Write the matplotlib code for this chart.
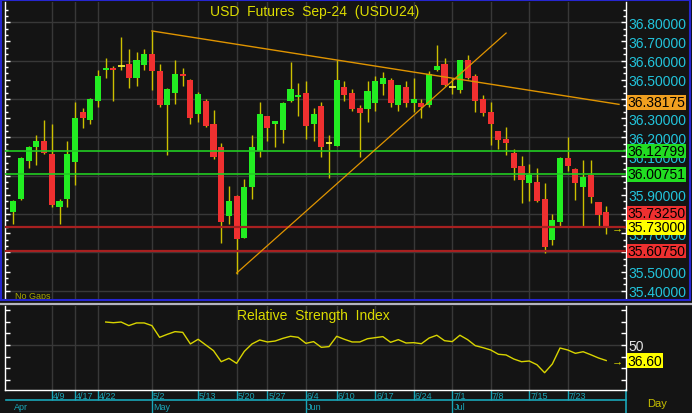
import matplotlib.pyplot as plt
import numpy as np
from matplotlib.patches import Rectangle
from matplotlib.lines import Line2D

plt.rcParams['font.family'] = ['Liberation Sans', 'DejaVu Sans']

# daily candles, bar index 0 = 4/1
opens = [35.809, 35.878, 36.078, 36.148, 36.183, 36.111, 35.837, 35.878, 36.070, 36.332,
         36.289, 36.390, 36.550, 36.562, 36.572, 36.584, 36.508, 36.579, 36.633, 36.544,
         36.367, 36.430, 36.532, 36.501, 36.320, 36.391, 36.271, 36.151, 35.788, 35.894,
         35.677, 35.941, 36.130, 36.311, 36.270, 36.238, 36.388, 36.409, 36.431, 36.270,
         36.362, 36.170, 36.155, 36.461, 36.431, 36.351, 36.348, 36.379, 36.480, 36.501,
         36.367, 36.461, 36.379, 36.381, 36.367, 36.550, 36.584, 36.461, 36.449, 36.602,
         36.522, 36.402, 36.332, 36.231, 36.193, 36.120, 36.052, 35.962, 35.969, 35.880,
         35.666, 35.757, 36.094, 36.035, 35.941, 36.005, 35.861, 35.810]
highs = [35.873, 36.095, 36.157, 36.214, 36.292, 36.271, 35.880, 36.183, 36.383, 36.353,
         36.405, 36.553, 36.614, 36.574, 36.723, 36.663, 36.643, 36.661, 36.753, 36.583,
         36.455, 36.602, 36.562, 36.503, 36.435, 36.402, 36.344, 36.170, 35.946, 35.901,
         35.983, 36.214, 36.383, 36.313, 36.285, 36.383, 36.595, 36.483, 36.492, 36.353,
         36.383, 36.214, 36.605, 36.492, 36.452, 36.370, 36.492, 36.522, 36.543, 36.511,
         36.473, 36.492, 36.511, 36.402, 36.544, 36.683, 36.614, 36.511, 36.604, 36.631,
         36.532, 36.421, 36.383, 36.233, 36.254, 36.141, 36.101, 36.061, 36.040, 35.962,
         35.800, 36.096, 36.202, 36.040, 36.080, 36.080, 35.863, 35.840]
lows = [35.748, 35.875, 36.038, 36.057, 36.115, 35.837, 35.748, 35.837, 35.950, 36.249,
        36.270, 36.358, 36.510, 36.388, 36.550, 36.457, 36.466, 36.553, 36.449, 36.357,
        36.106, 36.376, 36.466, 36.270, 36.278, 36.255, 36.087, 35.649, 35.750, 35.489,
        35.675, 35.880, 36.096, 36.179, 36.148, 36.169, 36.386, 36.310, 36.191, 36.179,
        36.097, 35.988, 36.153, 36.388, 36.337, 36.097, 36.280, 36.337, 36.419, 36.358,
        36.337, 36.358, 36.332, 36.299, 36.358, 36.548, 36.466, 36.424, 36.431, 36.505,
        36.332, 36.310, 36.158, 36.139, 36.108, 35.977, 35.857, 35.866, 35.864, 35.597,
        35.637, 35.730, 36.024, 35.871, 35.736, 35.857, 35.736, 35.696]
closes = [35.870, 36.090, 36.151, 36.183, 36.118, 35.847, 35.870, 36.111, 36.303, 36.299,
          36.402, 36.522, 36.562, 36.550, 36.572, 36.508, 36.602, 36.633, 36.548, 36.367,
          36.452, 36.532, 36.518, 36.299, 36.424, 36.257, 36.099, 35.757, 35.866, 35.671,
          35.941, 36.151, 36.322, 36.247, 36.283, 36.381, 36.452, 36.423, 36.257, 36.322,
          36.148, 36.170, 36.501, 36.419, 36.348, 36.327, 36.444, 36.492, 36.511, 36.379,
          36.471, 36.379, 36.402, 36.358, 36.532, 36.572, 36.471, 36.461, 36.602, 36.508,
          36.388, 36.329, 36.268, 36.188, 36.169, 36.038, 35.977, 36.002, 35.866, 35.626,
          35.770, 36.094, 36.052, 35.962, 35.993, 35.887, 35.797, 35.7325]

# RSI starts at bar 12
rsi_start = 12
rsi = [69.8, 69.2, 69.8, 66.7, 69.0, 69.0, 66.7, 56.6, 59.2, 61.5,
       60.9, 50.9, 54.9, 50.0, 45.1, 35.6, 38.5, 34.2, 44.5, 50.9,
       54.3, 52.6, 53.4, 55.7, 57.5, 56.6, 51.4, 52.9, 48.0, 48.6,
       57.5, 54.9, 52.6, 52.6, 55.4, 56.3, 57.2, 52.3, 54.6, 51.7,
       52.0, 51.1, 56.0, 58.4, 53.7, 52.9, 58.4, 54.6, 49.4, 47.7,
       45.7, 42.0, 41.4, 37.9, 35.6, 36.2, 33.0, 26.1, 33.6, 47.4,
       45.7, 42.8, 44.2, 41.6, 38.8, 36.6]

week_idx = [5, 8, 11, 18, 24, 29, 33, 38, 42, 47, 52, 57, 62, 67, 72]
week_labels = ['4/9', '4/17', '4/22', '5/2', '5/13', '5/20', '5/27', '6/4',
               '6/10', '6/17', '6/24', '7/1', '7/8', '7/15', '7/23']
month_idx = [0, 18, 38, 57]
month_labels = ['Apr', 'May', 'Jun', 'Jul']

# drawn studies
levels = [36.12799, 36.00751, 35.73000, 35.60750]
level_kind = ['green', 'green', 'red', 'red']
trend_down_x = [18, 78.66]
trend_down_y = [36.755, 36.372]
trend_up_x = [29, 64]
trend_up_y = [35.492, 36.744]
trend_label = 36.38175

# price scale labels that stay visible (others sit under the value tags)
price_labels = [35.4, 35.5, 35.7, 35.9, 36.1, 36.2, 36.3, 36.5, 36.6, 36.7, 36.8]

W, H = 692, 414
BG = '#141414'
GRID = '#383838'
CYAN = '#22c4dc'
TEAL = '#1aa6b8'
YEL = '#dcdc00'
GREEN = '#22ee22'
RED = '#f03030'
WICK = '#ccc000'


def px_axes(x0, y0, x1, y1):
    return [x0 / W, 1 - y1 / H, (x1 - x0) / W, (y1 - y0) / H]


fig = plt.figure(figsize=(W / 100, H / 100), dpi=100, facecolor=BG)
ax = fig.add_axes(px_axes(5, 3, 626, 300))
ax_rsi = fig.add_axes(px_axes(5, 307, 626, 391), sharex=ax)

idx = np.arange(len(closes))
o = np.array(opens)
c = np.array(closes)
up = c >= o

# ---- main price panel
ax.set_facecolor(BG)
ax.set_xlim(-1.078, 79.57)
ax.set_ylim(35.3566, 36.906)
ax.set_axisbelow(True)
for lv in np.arange(35.4, 36.81, 0.2):
    ax.axhline(lv, color=GRID, lw=1, zorder=0)
ax.set_xticks(week_idx)
ax.grid(axis='x', color=GRID, lw=1)
ax.tick_params(axis='x', length=0, labelbottom=False)

ax.vlines(idx, lows, highs, color=WICK, lw=1, zorder=2)
body_h = np.where(np.abs(c - o) < 0.008, 0.008, np.abs(c - o))
body_b = np.minimum(o, c)
doji = np.abs(c - o) < 0.001
ax.bar(idx[~doji], body_h[~doji], bottom=body_b[~doji], width=0.8,
       color=np.where(up, GREEN, RED)[~doji], zorder=3)
ax.hlines(c[doji], idx[doji] - 0.45, idx[doji] + 0.45, color='#ffff40', lw=1.2, zorder=3)

for lv, kind in zip(levels, level_kind):
    ax.axhline(lv, color='#22cc22' if kind == 'green' else '#a82020',
               lw=1.2 if kind == 'green' else 1.6, zorder=4)
ax.plot(trend_down_x, trend_down_y, color='#e09400', lw=1, zorder=4)
ax.plot(trend_up_x, trend_up_y, color='#e09400', lw=0.9, zorder=4)

ax.set_yticks(np.round(np.arange(35.4, 36.81, 0.1), 1))
ax.set_yticks(np.arange(35.4, 36.9, 0.1 / 3), minor=True)
ax.set_yticklabels([f'{v:.5f}' if any(abs(v - p) < 1e-6 for p in price_labels) else ''
                    for v in np.arange(35.4, 36.81, 0.1)])
ax.tick_params(axis='y', which='both', left=True, right=True, labelleft=False,
               labelright=True, direction='in', color='white', labelcolor=CYAN,
               labelsize=10, pad=2)
ax.tick_params(axis='y', which='major', length=3.6, width=1)
ax.tick_params(axis='y', which='minor', length=2.2, width=1)
for s in ['top', 'bottom']:
    ax.spines[s].set_visible(False)
for s in ['left', 'right']:
    ax.spines[s].set_color('white')
    ax.spines[s].set_linewidth(1)


def tag(axis, text, value, fc, dy=0, tc='black'):
    axis.annotate(text, xy=(1, value), xycoords=('axes fraction', 'data'),
                  xytext=(1.2, dy), textcoords='offset points', ha='left', va='center',
                  fontsize=10, color=tc, zorder=10, annotation_clip=False,
                  bbox=dict(boxstyle='square,pad=0.02', fc=fc, ec='none'))


tag(ax, f'{trend_label:.5f}', trend_label, '#f0a020')
tag(ax, f'{levels[0]:.5f}', levels[0], '#22dd22')
tag(ax, f'{levels[1]:.5f}', levels[1], '#22dd22')
tag(ax, f'{closes[-1]:.5f}', closes[-1], '#ee3030', dy=10)
tag(ax, f'{levels[2]:.5f}', levels[2], '#ffff00')
tag(ax, f'{levels[3]:.5f}', levels[3], '#ee3030')
ax.annotate('\u2192', xy=(1, levels[2]), xycoords=('axes fraction', 'data'),
            xytext=(-6, 0), textcoords='offset points', ha='center', va='center',
            fontsize=8, color=YEL, annotation_clip=False, zorder=6)

ax.text(0.499, 0.971, 'USD  Futures  Sep-24  (USDU24)', transform=ax.transAxes,
        ha='center', va='center', fontsize=10, color=YEL, zorder=6)
ax.text(0.016, 0.012, 'No Gaps', transform=ax.transAxes, ha='left', va='center',
        fontsize=6.5, color='#a8a800', zorder=6)

# ---- RSI panel
ax_rsi.set_facecolor(BG)
ax_rsi.set_ylim(11.2, 83.6)
ax_rsi.set_axisbelow(True)
ax_rsi.axhline(50, color=GRID, lw=1, zorder=0)
ax_rsi.grid(axis='x', color=GRID, lw=1)
ax_rsi.plot(idx[rsi_start:], rsi, color='#d8d400', lw=1, zorder=3)
ax_rsi.set_yticks(range(20, 81, 10))
ax_rsi.set_yticklabels(['', '', '', '50', '', '', ''])
ax_rsi.tick_params(axis='y', left=True, right=True, labelleft=False, labelright=True,
                   direction='in', length=3.6, width=1, color='white',
                   labelcolor='#e4e4e4', labelsize=10, pad=2)
ax_rsi.tick_params(axis='x', direction='out', length=7.2, width=1, color=TEAL,
                   labelbottom=False)
ax_rsi.spines['top'].set_visible(False)
for s in ['left', 'right', 'bottom']:
    ax_rsi.spines[s].set_color('white')
    ax_rsi.spines[s].set_linewidth(1)
tag(ax_rsi, f'{rsi[-1]:.2f}', rsi[-1], '#ffff00')
ax_rsi.annotate('\u2192', xy=(1, rsi[-1]), xycoords=('axes fraction', 'data'),
                xytext=(-6, 0), textcoords='offset points', ha='center', va='center',
                fontsize=8, color=YEL, annotation_clip=False, zorder=6)
ax_rsi.text(0.497, 0.893, 'Relative  Strength  Index', transform=ax_rsi.transAxes,
            ha='center', va='center', fontsize=10, color=YEL, zorder=6)

# date rows under the RSI panel
xt = ax_rsi.get_xaxis_transform()
for i, lab in zip(week_idx, week_labels):
    ax_rsi.text(i + 0.12, -0.062, lab, transform=xt, ha='left', va='center',
                fontsize=6.5, color=TEAL, clip_on=False)
ax_rsi.add_line(Line2D([-1.0, 79.57], [-0.119, -0.119], transform=xt, color=TEAL,
                       lw=1.2, clip_on=False))
ax_rsi.add_line(Line2D([79.57, 79.57], [0, -0.3], transform=xt, color=TEAL,
                       lw=1.2, clip_on=False))
for i, lab in zip(month_idx, month_labels):
    if i > 0:
        ax_rsi.add_line(Line2D([i, i], [-0.119, -0.3], transform=xt, color=TEAL,
                               lw=1, clip_on=False))
    ax_rsi.text(i + 0.15, -0.2, lab, transform=xt, ha='left', va='center',
                fontsize=6.5, color=TEAL, clip_on=False)

fig.text(647 / W, 1 - 404 / H, 'Day', ha='left', va='center', fontsize=8, color='#c8c000')

# window frame
fig.patches.append(Rectangle((1 / W, 1 - 301 / H), 689 / W, 300 / H, transform=fig.transFigure,
                             fill=False, ec='#2626d0', lw=1.5))
fig.lines.append(Line2D([0, 1], [1 - 304.5 / H, 1 - 304.5 / H], transform=fig.transFigure,
                        color='#b4b4c0', lw=1.6))

fig.savefig('out.png', dpi=100, facecolor=BG)
